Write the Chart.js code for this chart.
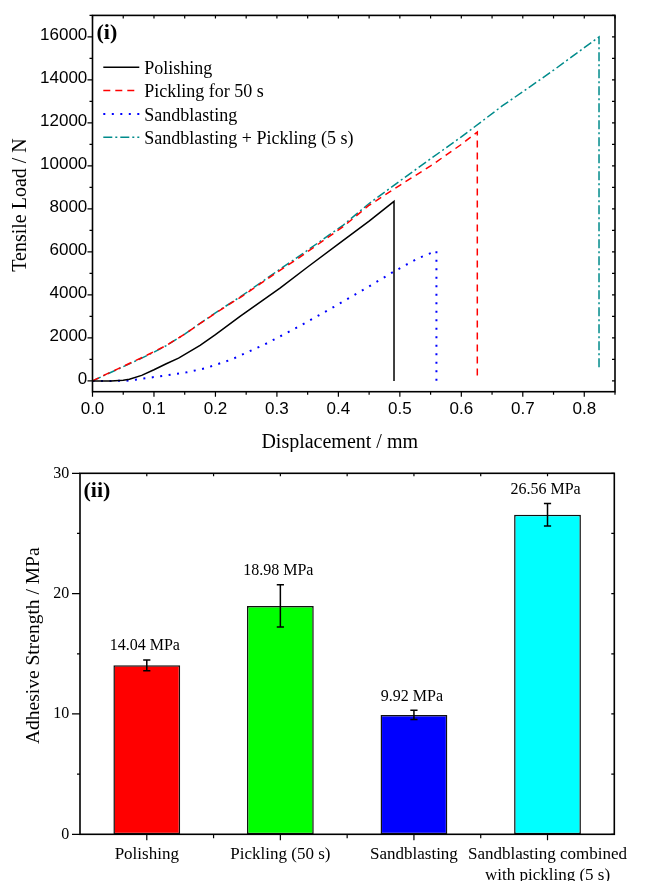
<!DOCTYPE html>
<html><head><meta charset="utf-8">
<script src="https://cdn.jsdelivr.net/npm/chart.js@4.4.1/dist/chart.umd.min.js"></script>
<style>
html,body{margin:0;padding:0;background:#fff;}
#wrap{position:relative;width:652px;height:881px;overflow:hidden;background:#fff;}
canvas{position:absolute;left:0;}
#c1{top:0;} #c2{top:452px;}
</style></head><body>
<div id="wrap"><canvas id="c1" width="652" height="452"></canvas><canvas id="c2" width="652" height="429"></canvas></div>
<script>
// ---------------- data: panel (i) tensile curves ----------------
const polishingX = [0, 0.03, 0.05, 0.06, 0.08, 0.10, 0.12, 0.14, 0.175, 0.20, 0.24, 0.305, 0.35, 0.403, 0.45, 0.4905, 0.4905];
const polishingY = [0, 0, 30, 80, 260, 520, 800, 1060, 1650, 2150, 3000, 4320, 5300, 6430, 7430, 8350, 0];

const pickling50X = [0, 0.02, 0.05, 0.08, 0.10, 0.12, 0.15, 0.174, 0.20, 0.245, 0.30, 0.332, 0.408, 0.449, 0.50, 0.55, 0.60, 0.626, 0.626];
const pickling50Y = [0, 280, 680, 1080, 1360, 1650, 2180, 2650, 3150, 3970, 5050, 5650, 7180, 8150, 9100, 10000, 11000, 11580, 80];

const sandblastX = [0, 0.03, 0.055, 0.07, 0.10, 0.13, 0.153, 0.183, 0.2265, 0.25, 0.281, 0.336, 0.392, 0.446, 0.488, 0.53, 0.5595, 0.5595];
const sandblastY = [0, 0, 10, 60, 180, 300, 400, 586, 1000, 1310, 1710, 2540, 3430, 4330, 5050, 5710, 6050, 0];

const sandPickX = [0, 0.02, 0.05, 0.08, 0.10, 0.12, 0.15, 0.174, 0.20, 0.245, 0.30, 0.332, 0.408, 0.449, 0.50, 0.55, 0.60, 0.667, 0.70, 0.75, 0.80, 0.824, 0.824];
const sandPickY = [0, 270, 660, 1060, 1340, 1640, 2180, 2660, 3170, 4000, 5100, 5720, 7250, 8230, 9300, 10330, 11350, 12800, 13450, 14450, 15500, 16000, 500];

const seriesLabels = ['Polishing', 'Pickling for 50 s', 'Sandblasting', 'Sandblasting + Pickling (5 s)'];
const xTickValues = [0, 0.1, 0.2, 0.3, 0.4, 0.5, 0.6, 0.7, 0.8];
const yTickValues = [0, 2000, 4000, 6000, 8000, 10000, 12000, 14000, 16000];

// ---------------- data: panel (ii) adhesive strength ----------------
const categories = ['Polishing', 'Pickling (50 s)', 'Sandblasting', ['Sandblasting combined', 'with pickling (5 s)']];
const strengthValues = [14.04, 18.98, 9.92, 26.56];
const strengthErrors = [0.45, 1.75, 0.38, 0.94];
const strengthTicks = [0, 10, 20, 30];
const barColors = ['#ff0000', '#00ff00', '#0000ff', '#00ffff'];

// ---------------- helpers / plugins ----------------
const zip = (xs, ys) => xs.map((x, i) => ({x: x, y: ys[i]}));
const SERIF = "'Liberation Serif', 'Times New Roman', serif";
const SANS = "'Liberation Sans', Arial, sans-serif";

const framePlugin = {
  id: 'frame',
  afterDraw(chart, args, o) {
    const {ctx, chartArea: a} = chart;
    ctx.save();
    ctx.strokeStyle = '#000';
    ctx.setLineDash([]);
    ctx.lineWidth = 1.2;
    (o.ticks || []).forEach(t => {
      const sc = chart.scales[t.axis];
      t.values.forEach(v => {
        const p = sc.getPixelForValue(v);
        ctx.beginPath();
        if (t.axis === 'x') {
          ctx.moveTo(p, a.bottom); ctx.lineTo(p, a.bottom + t.out);
          ctx.moveTo(p, a.top); ctx.lineTo(p, a.top + t.inn);
        } else {
          ctx.moveTo(a.left - t.out, p); ctx.lineTo(a.left, p);
          ctx.moveTo(a.right - t.inn, p); ctx.lineTo(a.right, p);
        }
        ctx.stroke();
      });
    });
    ctx.lineWidth = o.lineWidth || 1.6;
    ctx.strokeRect(a.left, a.top, a.right - a.left, a.bottom - a.top);
    ctx.restore();
  }
};

const decorPlugin = {
  id: 'decor',
  afterDraw(chart, args, o) {
    const ctx = chart.ctx;
    (o.items || []).forEach(it => {
      ctx.save();
      ctx.fillStyle = '#000';
      ctx.font = it.font;
      ctx.textAlign = it.align || 'left';
      ctx.textBaseline = 'alphabetic';
      ctx.translate(it.x, it.y);
      if (it.rotate) ctx.rotate(it.rotate);
      ctx.fillText(it.text, 0, 0);
      ctx.restore();
    });
  }
};

const lineLegendPlugin = {
  id: 'lineLegend',
  afterDraw(chart, args, o) {
    const ctx = chart.ctx;
    ctx.save();
    chart.data.datasets.forEach((ds, i) => {
      const yb = o.y + i * o.step;
      const yl = yb - o.lineRise;
      ctx.beginPath();
      ctx.setLineDash(ds.borderDash || []);
      ctx.strokeStyle = ds.borderColor;
      ctx.lineWidth = ds.borderWidth;
      ctx.lineCap = 'butt';
      ctx.moveTo(o.x, yl); ctx.lineTo(o.x + o.len, yl);
      ctx.stroke();
      ctx.setLineDash([]);
      ctx.fillStyle = '#000';
      ctx.font = o.font;
      ctx.textAlign = 'left';
      ctx.textBaseline = 'alphabetic';
      ctx.fillText(ds.label, o.x + o.len + o.gap, yb);
    });
    ctx.restore();
  }
};

const errorBarPlugin = {
  id: 'errorBars',
  afterDatasetsDraw(chart, args, o) {
    const ctx = chart.ctx;
    const ys = chart.scales.y;
    const meta = chart.getDatasetMeta(0);
    ctx.save();
    meta.data.forEach((bar, i) => {
      const v = strengthValues[i], e = strengthErrors[i];
      const yt = ys.getPixelForValue(v + e), yb = ys.getPixelForValue(v - e);
      const x = bar.x;
      ctx.strokeStyle = '#000';
      ctx.lineWidth = 1.5;
      ctx.beginPath();
      ctx.moveTo(x, yt); ctx.lineTo(x, yb);
      ctx.moveTo(x - o.cap, yt); ctx.lineTo(x + o.cap, yt);
      ctx.moveTo(x - o.cap, yb); ctx.lineTo(x + o.cap, yb);
      ctx.stroke();
      ctx.fillStyle = '#000';
      ctx.font = o.font;
      ctx.textAlign = 'center';
      ctx.textBaseline = 'middle';
      ctx.fillText(v.toFixed(2) + ' MPa', x - 2, yt - o.gap);
    });
    ctx.restore();
  }
};

const noGrid = {display: false, drawTicks: false, tickLength: 0};

// ---------------- panel (i) ----------------
new Chart(document.getElementById('c1'), {
  type: 'line',
  data: {
    datasets: [
      {label: seriesLabels[0], data: zip(polishingX, polishingY), borderColor: '#000000', borderWidth: 1.5, borderDash: []},
      {label: seriesLabels[1], data: zip(pickling50X, pickling50Y), borderColor: '#ff0000', borderWidth: 1.5, borderDash: [7, 5]},
      {label: seriesLabels[2], data: zip(sandblastX, sandblastY), borderColor: '#0000ff', borderWidth: 2, borderDash: [2, 6.5]},
      {label: seriesLabels[3], data: zip(sandPickX, sandPickY), borderColor: '#008b8b', borderWidth: 1.5, borderDash: [9, 3, 2, 3]}
    ]
  },
  options: {
    responsive: false, animation: false, devicePixelRatio: 1,
    layout: {padding: {left: 0, top: 13.3, right: 37, bottom: 0}},
    elements: {point: {radius: 0, hoverRadius: 0}, line: {tension: 0, fill: false}},
    plugins: {
      legend: {display: false}, tooltip: {enabled: false},
      lineLegend: {x: 103.3, y: 74, step: 23.3, lineRise: 6.7, len: 36, gap: 5, font: '18px ' + SERIF},
      frame: {lineWidth: 1.6, ticks: [
        {axis: 'x', values: xTickValues, out: 5, inn: 3},
        {axis: 'x', values: xTickValues.map(v => v + 0.05), out: 3, inn: 3},
        {axis: 'y', values: yTickValues, out: 5, inn: 3},
        {axis: 'y', values: yTickValues.map(v => v + 1000), out: 3, inn: 3}
      ]},
      decor: {items: [
        {text: '(i)', x: 96.5, y: 39, font: 'bold 22px ' + SERIF},
        {text: 'Tensile Load / N', x: 26, y: 205, font: '20px ' + SERIF, align: 'center', rotate: -Math.PI / 2},
        {text: 'Displacement / mm', x: 339.7, y: 447.5, font: '20px ' + SERIF, align: 'center'}
      ]}
    },
    scales: {
      x: {
        type: 'linear', min: 0, max: 0.85,
        grid: noGrid, border: {display: false},
        ticks: {font: {family: SANS, size: 17}, color: '#000', padding: 7, maxRotation: 0, autoSkip: false,
                callback: v => Number(v).toFixed(1)},
        afterBuildTicks: s => { s.ticks = xTickValues.map(v => ({value: v})); },
        afterFit: s => { s.height = 60.3; }
      },
      y: {
        type: 'linear', min: -500, max: 17000,
        grid: noGrid, border: {display: false},
        ticks: {font: {family: SANS, size: 17}, color: '#000', padding: 5.2, autoSkip: false, labelOffset: -1.5,
                callback: v => String(v)},
        afterBuildTicks: s => { s.ticks = yTickValues.map(v => ({value: v})); },
        afterFit: s => { s.width = 92.5; }
      }
    }
  },
  plugins: [framePlugin, decorPlugin, lineLegendPlugin]
});

// ---------------- panel (ii) ----------------
new Chart(document.getElementById('c2'), {
  type: 'bar',
  data: {
    labels: categories,
    datasets: [{
      data: strengthValues, backgroundColor: barColors, borderColor: '#111111', borderWidth: 1.5,
      borderSkipped: false, categoryPercentage: 1, barPercentage: 0.5
    }]
  },
  options: {
    responsive: false, animation: false, devicePixelRatio: 1,
    layout: {padding: {left: 0, top: 21.3, right: 37.7, bottom: 0}},
    plugins: {
      legend: {display: false}, tooltip: {enabled: false},
      errorBars: {cap: 3.6, gap: 14, font: '16px ' + SERIF},
      frame: {lineWidth: 1.6, ticks: [
        {axis: 'x', values: [0, 1, 2, 3], out: 6, inn: 3},
        {axis: 'x', values: [0.5, 1.5, 2.5], out: 4, inn: 3},
        {axis: 'y', values: strengthTicks, out: 8, inn: 3},
        {axis: 'y', values: [5, 15, 25], out: 3, inn: 3}
      ]},
      decor: {items: [
        {text: '(ii)', x: 83.5, y: 45, font: 'bold 22px ' + SERIF},
        {text: 'Adhesive Strength / MPa', x: 39, y: 193.7, font: '19.5px ' + SERIF, align: 'center', rotate: -Math.PI / 2}
      ]}
    },
    scales: {
      x: {
        type: 'category', offset: true,
        grid: noGrid, border: {display: false},
        ticks: {font: {family: SERIF, size: 17}, color: '#000', padding: 10.5, maxRotation: 0, minRotation: 0, autoSkip: false},
        afterFit: s => { s.height = 46.7; s.paddingLeft = 0; s.paddingRight = 0; }
      },
      y: {
        type: 'linear', min: 0, max: 30,
        grid: noGrid, border: {display: false},
        ticks: {font: {family: SERIF, size: 16}, color: '#000', padding: 10.7, autoSkip: false,
                callback: v => String(v)},
        afterBuildTicks: s => { s.ticks = strengthTicks.map(v => ({value: v})); },
        afterFit: s => { s.width = 80; }
      }
    }
  },
  plugins: [errorBarPlugin, framePlugin, decorPlugin]
});
</script>
</body></html>
